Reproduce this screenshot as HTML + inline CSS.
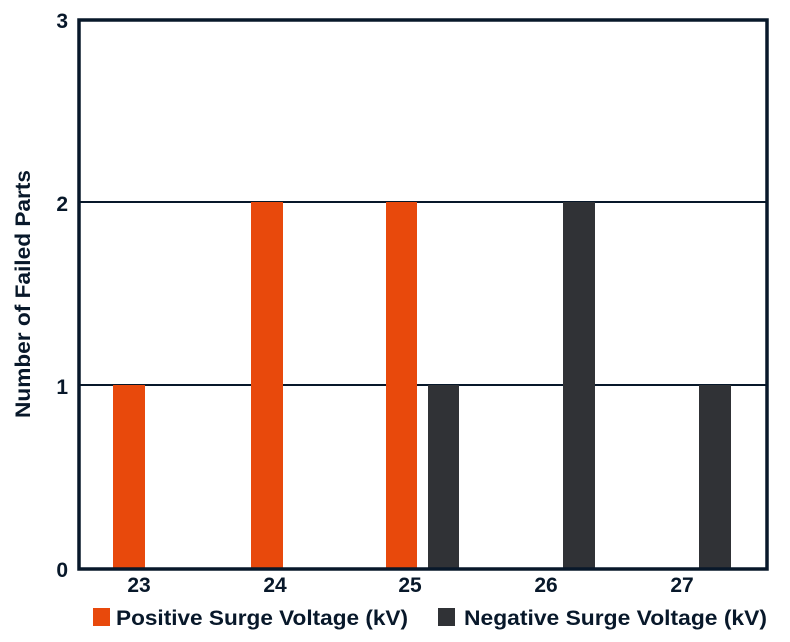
<!DOCTYPE html>
<html><head><style>
body{margin:0;background:#fff;}
svg text{font-family:"Liberation Sans",Arial,sans-serif;font-weight:bold;fill:#08182a;}
</style></head><body>
<svg width="790" height="637" xmlns="http://www.w3.org/2000/svg">
<rect width="790" height="637" fill="#fff"/>
<line x1="79" y1="202" x2="767" y2="202" stroke="#08182a" stroke-width="2"/>
<line x1="79" y1="385" x2="767" y2="385" stroke="#08182a" stroke-width="2"/>
<g fill="#e8490c">
<rect x="113" y="385" width="32" height="184"/>
<rect x="251" y="202" width="32" height="367"/>
<rect x="386" y="202" width="31" height="367"/>
</g>
<g fill="#303236">
<rect x="428" y="385" width="31" height="184"/>
<rect x="563" y="202" width="32" height="367"/>
<rect x="699" y="385" width="32" height="184"/>
</g>
<rect x="79" y="20" width="688" height="549" fill="none" stroke="#08182a" stroke-width="3.5"/>
<g font-size="21" text-anchor="end">
<text x="68" y="28">3</text>
<text x="68" y="211">2</text>
<text x="68" y="394">1</text>
<text x="68" y="577">0</text>
</g>
<g font-size="21" text-anchor="middle">
<text x="139" y="592">23</text>
<text x="275" y="592">24</text>
<text x="410" y="592">25</text>
<text x="546" y="592">26</text>
<text x="682" y="592">27</text>
</g>
<text transform="translate(30,418) rotate(-90)" font-size="21" textLength="248" lengthAdjust="spacingAndGlyphs">Number of Failed Parts</text>
<rect x="93" y="608" width="17" height="18" fill="#e8490c"/>
<text x="116" y="625" font-size="21" textLength="292" lengthAdjust="spacingAndGlyphs">Positive Surge Voltage (kV)</text>
<rect x="438" y="608" width="17" height="18" fill="#303236"/>
<text x="464" y="625" font-size="21" textLength="303" lengthAdjust="spacingAndGlyphs">Negative Surge Voltage (kV)</text>
</svg>
</body></html>
